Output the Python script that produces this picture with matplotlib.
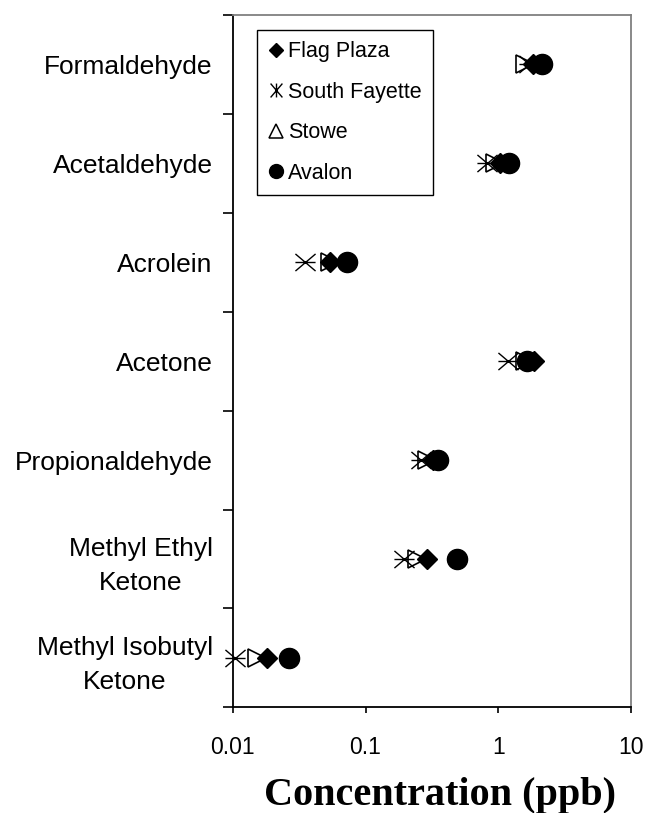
import numpy as np
import matplotlib
matplotlib.use("Agg")
import matplotlib.pyplot as plt
from matplotlib.path import Path
from matplotlib.lines import Line2D

# ---- data ----
compounds = ["Formaldehyde", "Acetaldehyde", "Acrolein", "Acetone",
             "Propionaldehyde", "Methyl Ethyl\nKetone", "Methyl Isobutyl\nKetone"]
sites = ["Flag Plaza", "South Fayette", "Stowe", "Avalon"]
flag_plaza    = [1.83, 1.03, 0.054, 1.85, 0.32, 0.29, 0.018]
south_fayette = [1.70, 0.83, 0.035, 1.18, 0.26, 0.195, 0.0104]
stowe         = [1.60, 0.95, 0.054, 1.60, 0.29, 0.245, 0.0153]
avalon        = [2.13, 1.20, 0.073, 1.64, 0.35, 0.49, 0.0265]
xticks = [0.01, 0.1, 1, 10]
xtick_labels = ["0.01", "0.1", "1", "10"]
xlabel = "Concentration (ppb)"

# ---- markers ----
M, L = Path.MOVETO, Path.LINETO
ast_h = Path([(-1, 0), (1, 0), (-1, -0.85), (1, 0.85), (-1, 0.85), (1, -0.85)],
             [M, L, M, L, M, L])
ast_v = Path([(0, -1), (0, 1), (-0.85, -1), (0.85, 1), (-0.85, 1), (0.85, -1)],
             [M, L, M, L, M, L])

sans = ["Liberation Sans", "DejaVu Sans"]
serif = ["Liberation Serif", "DejaVu Serif"]

fig = plt.figure(figsize=(6.47, 8.13), dpi=100)
ax = fig.add_axes([0.360, 0.130, 0.615, 0.8515])

y = np.arange(len(compounds))
series = [flag_plaza, south_fayette, stowe, avalon]
styles = [
    dict(marker="D", markersize=10, markerfacecolor="black", markeredgecolor="black"),
    dict(marker=ast_h, markersize=14.5, markerfacecolor="none", markeredgecolor="black", markeredgewidth=1.0),
    dict(marker=">", markersize=13, markerfacecolor="none", markeredgecolor="black", markeredgewidth=1.2),
    dict(marker="o", markersize=14.5, markerfacecolor="black", markeredgecolor="black"),
]
leg_styles = [
    dict(marker="D", markersize=7.5, markerfacecolor="black", markeredgecolor="black"),
    dict(marker=ast_v, markersize=10, markerfacecolor="none", markeredgecolor="black", markeredgewidth=1.0),
    dict(marker="^", markersize=10, markerfacecolor="none", markeredgecolor="black", markeredgewidth=1.1),
    dict(marker="o", markersize=10, markerfacecolor="black", markeredgecolor="black"),
]
for vals, st in zip(series, styles):
    ax.plot(vals, y, linestyle="none", clip_on=False, zorder=3, **st)

ax.set_xscale("log")
ax.set_xlim(0.01, 10)
ax.set_ylim(len(compounds) - 0.5, -0.5)

ax.set_xticks(xticks)
ax.set_xticklabels(xtick_labels, fontsize=16.5, family=sans)
ax.xaxis.set_minor_locator(matplotlib.ticker.NullLocator())
ax.tick_params(axis="x", direction="out", length=4.5, width=1.2, pad=16, color="black")

ax.set_yticks(np.arange(len(compounds) + 1) - 0.5)
ax.set_yticklabels([])
ax.set_yticks(y, minor=True)
ax.set_yticklabels(compounds, minor=True, fontsize=19, family=sans,
                   multialignment="center", linespacing=1.5)
ax.tick_params(axis="y", which="major", direction="out", length=7.2, width=1.2)
ax.tick_params(axis="y", which="minor", length=0, pad=14.5)

for s in ["left", "bottom"]:
    ax.spines[s].set_color("black")
    ax.spines[s].set_linewidth(1.3)
for s in ["top", "right"]:
    ax.spines[s].set_color("#808080")
    ax.spines[s].set_linewidth(1.3)

ax.set_xlabel(xlabel, fontsize=29, family=serif, fontweight="bold")
ax.xaxis.set_label_coords(0.52, -0.10)

handles = [Line2D([], [], linestyle="none", **st) for st in leg_styles]
leg = ax.legend(handles, sites, loc="upper left", bbox_to_anchor=(0.06, 0.978),
                prop=dict(family=sans, size=15.5), frameon=True, fancybox=False,
                edgecolor="black", framealpha=1, borderaxespad=0, borderpad=0.52,
                handlelength=0.7, handletextpad=0.25, labelspacing=0.9)
leg.get_frame().set_linewidth(1.0)

fig.savefig("out.png", dpi=100)
